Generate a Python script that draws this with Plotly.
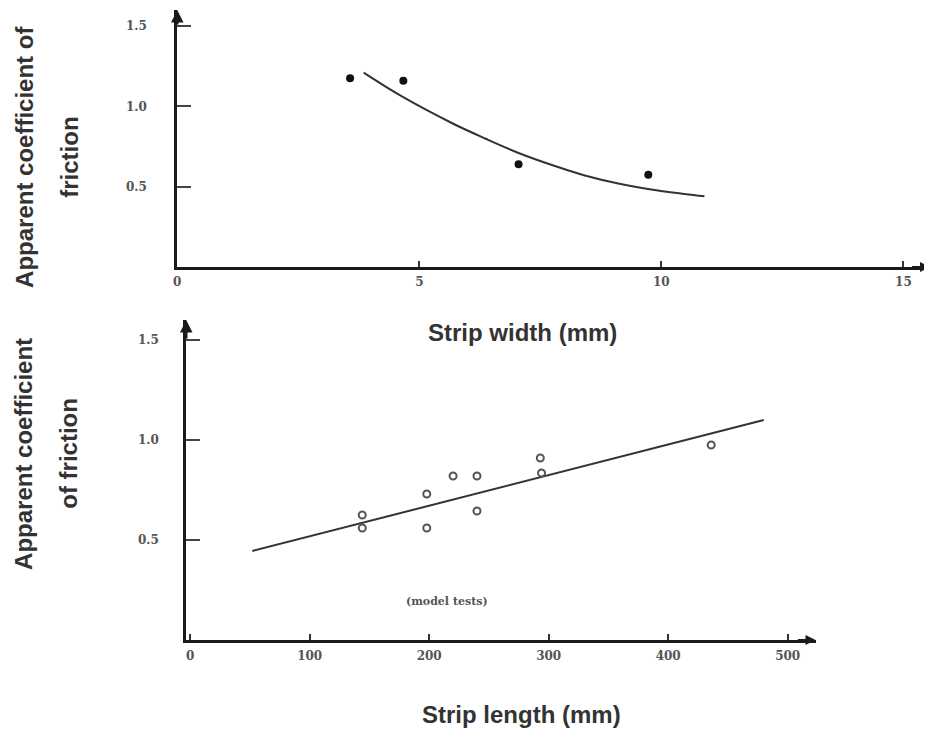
import plotly.graph_objects as go

# The page body adds an 8px margin, so the figure is sized to fill the rest of the window.
OFF = 8
W, H = 932 - OFF, 729 - OFF

# ---------------- data ----------------
# Top panel: apparent coefficient of friction vs strip width (mm)
width_pts_x = [3.57, 4.67, 7.05, 9.73]
width_pts_y = [1.175, 1.16, 0.64, 0.575]
width_curve_x = [3.85, 4.65, 5.68, 6.36, 7.05, 7.74, 8.42, 9.11, 9.79, 10.48, 10.89]
width_curve_y = [1.21, 1.06, 0.895, 0.80, 0.71, 0.635, 0.57, 0.52, 0.483, 0.455, 0.44]
width_ticks = [0, 5, 10, 15]
top_yticks = [0.5, 1.0, 1.5]

# Bottom panel: apparent coefficient of friction vs strip length (mm), model tests
length_pts_x = [144, 144, 198, 198, 220, 240, 240, 293, 294, 436]
length_pts_y = [0.625, 0.56, 0.73, 0.56, 0.82, 0.82, 0.645, 0.91, 0.835, 0.975]
length_line_x = [52, 480]
length_line_y = [0.445, 1.10]
length_ticks = [0, 100, 200, 300, 400, 500]
bot_yticks = [0.5, 1.0, 1.5]

# ---------------- layout helpers (reference pixel -> paper fraction) ----------------
def px_x(p):
    return (p - OFF) / W

def px_y(p):
    return 1 - (p - OFF) / H

TITLE_FONT = dict(family="Liberation Sans, Arial, sans-serif", size=24, color="#333333")
TICK_FONT = dict(family="DejaVu Serif, serif", size=12, color="#555555")
AXIS_COLOR = "#1a1a1a"

fig = go.Figure()

# top panel
fig.add_trace(go.Scatter(x=width_curve_x, y=width_curve_y, mode="lines",
                         line=dict(color="#333333", width=2, shape="spline", smoothing=1.0),
                         xaxis="x", yaxis="y", showlegend=False))
fig.add_trace(go.Scatter(x=width_pts_x, y=width_pts_y, mode="markers",
                         marker=dict(color="#111111", size=8, symbol="circle"),
                         xaxis="x", yaxis="y", showlegend=False))

# bottom panel
fig.add_trace(go.Scatter(x=length_line_x, y=length_line_y, mode="lines",
                         line=dict(color="#333333", width=2),
                         xaxis="x2", yaxis="y2", showlegend=False))
fig.add_trace(go.Scatter(x=length_pts_x, y=length_pts_y, mode="markers",
                         marker=dict(color="#555555", size=7, symbol="circle-open",
                                     line=dict(width=2, color="#555555")),
                         xaxis="x2", yaxis="y2", showlegend=False))

TOP_X_END = 15.55
BOT_X_START, BOT_X_END = -3.3, 523.3

common_x = dict(showgrid=False, zeroline=False, showline=True, linecolor=AXIS_COLOR,
                ticks="inside", ticklen=6, tickwidth=1.5, tickcolor="#333333",
                tickfont=TICK_FONT, fixedrange=True)
common_y = dict(showgrid=False, zeroline=False, showline=True, linecolor=AXIS_COLOR,
                ticks="inside", ticklen=14, tickwidth=1.5, tickcolor="#444444",
                tickfont=TICK_FONT, fixedrange=True, ticklabelstandoff=25)

def fmt(v):
    return f"<b>{v:.1f}</b>"

def fmt_int(v):
    return f"<b>{v}</b>"

fig.update_layout(
    width=W, height=H,
    margin=dict(l=0, r=0, t=0, b=0),
    paper_bgcolor="white", plot_bgcolor="white",
    xaxis=dict(common_x, domain=[px_x(174), px_x(930)], range=[0, TOP_X_END],
               tickvals=width_ticks, ticktext=[fmt_int(v) for v in width_ticks],
               linewidth=2.5, anchor="y", ticklabelstandoff=2),
    yaxis=dict(common_y, domain=[px_y(267), px_y(10)], range=[0, 1.6],
               tickvals=top_yticks, ticktext=[fmt(v) for v in top_yticks],
               linewidth=3, anchor="x"),
    xaxis2=dict(common_x, domain=[px_x(183), px_x(815)], range=[BOT_X_START, BOT_X_END],
                tickvals=length_ticks, ticktext=[fmt_int(v) for v in length_ticks],
                linewidth=2.5, anchor="y2", ticklabelstandoff=3),
    yaxis2=dict(common_y, domain=[px_y(640), px_y(320)], range=[0, 1.6],
                tickvals=bot_yticks, ticktext=[fmt(v) for v in bot_yticks],
                linewidth=3, anchor="x2", ticklabelstandoff=22),
)

annotations = []
# arrowheads on axes
annotations += [
    dict(x=0, y=1.6, ax=0, ay=1.5, xref="x", yref="y", axref="x", ayref="y",
         text="", showarrow=True, arrowhead=2, arrowsize=1, arrowwidth=2.5, arrowcolor=AXIS_COLOR),
    dict(x=TOP_X_END, y=0, ax=TOP_X_END - 0.4, ay=0, xref="x", yref="y", axref="x", ayref="y",
         text="", showarrow=True, arrowhead=2, arrowsize=1, arrowwidth=2, arrowcolor=AXIS_COLOR),
    dict(x=BOT_X_START, y=1.6, ax=BOT_X_START, ay=1.5, xref="x2", yref="y2", axref="x2", ayref="y2",
         text="", showarrow=True, arrowhead=2, arrowsize=1, arrowwidth=2.5, arrowcolor=AXIS_COLOR),
    dict(x=BOT_X_END, y=0, ax=BOT_X_END - 16, ay=0, xref="x2", yref="y2", axref="x2", ayref="y2",
         text="", showarrow=True, arrowhead=2, arrowsize=1, arrowwidth=2, arrowcolor=AXIS_COLOR),
]
# in-plot note
annotations.append(dict(x=215, y=0.195, xref="x2", yref="y2", text="<b>(model tests)</b>",
                        showarrow=False, font=dict(family="DejaVu Serif, serif", size=11, color="#555555")))
# axis titles
annotations += [
    dict(x=px_x(521), y=px_y(332), xref="paper", yref="paper", text="<b>Strip width (mm)</b>",
         showarrow=False, font=TITLE_FONT, xanchor="center", yanchor="middle"),
    dict(x=px_x(520), y=px_y(714), xref="paper", yref="paper", text="<b>Strip length (mm)</b>",
         showarrow=False, font=TITLE_FONT, xanchor="center", yanchor="middle"),
    dict(x=px_x(20), y=px_y(157), xref="paper", yref="paper", text="<b>Apparent coefficient of</b>",
         showarrow=False, font=TITLE_FONT, textangle=-90, xanchor="center", yanchor="middle"),
    dict(x=px_x(65), y=px_y(157), xref="paper", yref="paper", text="<b>friction</b>",
         showarrow=False, font=TITLE_FONT, textangle=-90, xanchor="center", yanchor="middle"),
    dict(x=px_x(20), y=px_y(454), xref="paper", yref="paper", text="<b>Apparent coefficient</b>",
         showarrow=False, font=TITLE_FONT, textangle=-90, xanchor="center", yanchor="middle"),
    dict(x=px_x(65), y=px_y(453), xref="paper", yref="paper", text="<b>of friction</b>",
         showarrow=False, font=TITLE_FONT, textangle=-90, xanchor="center", yanchor="middle"),
]
fig.update_layout(annotations=annotations)

fig.write_html("out.html")
